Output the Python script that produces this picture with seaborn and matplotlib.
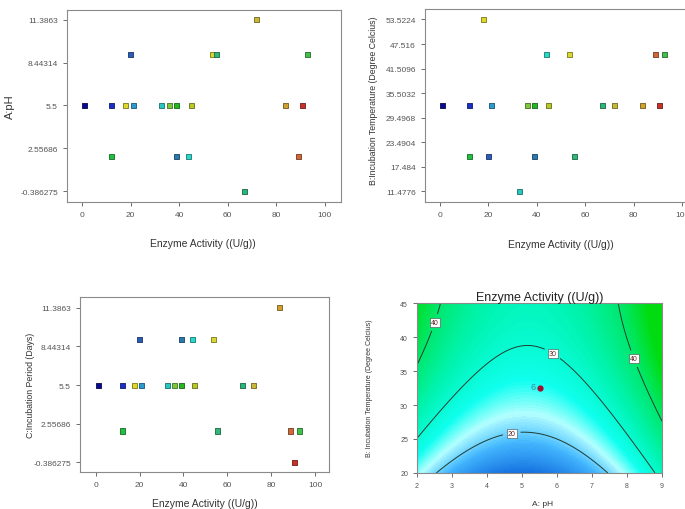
import numpy as np
import pandas as pd
import seaborn as sns
import matplotlib.pyplot as plt
from matplotlib.colors import LinearSegmentedColormap, to_rgb

# design runs (20 runs, central composite design)
activity = [1.1, 12.0, 21.1, 36.0, 39.0, 44.9, 12.0, 20.0, 39.0, 44.0,
            53.7, 55.5, 89.0, 92.9, 17.8, 32.9, 67.0, 71.9, 83.7, 90.8]
ph = [5.5, 5.5, 5.5, 5.5, 5.5, 5.5, 2, 9, 2, 2,
      9, 9, 2, 9, 5.5, 5.5, -0.386275, 11.3863, 5.5, 5.5]
temp = [32.5, 32.5, 32.5, 32.5, 32.5, 32.5, 20, 20, 20, 45,
        45, 20, 45, 45, 53.5224, 11.4776, 32.5, 32.5, 32.5, 32.5]
period = [5.5, 5.5, 5.5, 5.5, 5.5, 5.5, 2, 9, 9, 9,
          9, 2, 2, 2, 5.5, 5.5, 5.5, 5.5, 11.3863, -0.386275]
run_colors = ['#0a0a8c', '#1a2ec8', '#2a9ad0', '#7cc83a', '#22b822', '#b8c828',
              '#22c040', '#2a5cb8', '#2a78b0', '#28d8c8', '#d8d830', '#30b878',
              '#d06838', '#40c048', '#e0d828', '#28c8c0', '#28b878', '#c8b838',
              '#d0a030', '#c83028']

ph_ticks = [-0.386275, 2.55686, 5.5, 8.44314, 11.3863]
ph_ticklabels = ['-0.386275', '2.55686', '5.5', '8.44314', '11.3863']
temp_ticks = [11.4776, 17.484, 23.4904, 29.4968, 35.5032, 41.5096, 47.516, 53.5224]
temp_ticklabels = ['11.4776', '17.484', '23.4904', '29.4968', '35.5032',
                   '41.5096', '47.516', '53.5224']
act_ticks = [0, 20, 40, 60, 80, 100]

# quadratic model for the contour panel (pH vs temperature)
b0, b_aa, b_b, b_bb, b_ab = 12.89, 1.185, 1.3126, -0.02126, -0.0199
center_ph, center_temp, n_center = 5.5, 32.5, 6
contour_levels = [20, 30, 40]

df = pd.DataFrame({'run': range(len(activity)), 'activity': activity,
                   'ph': ph, 'temp': temp, 'period': period})
palette = {i: c for i, c in enumerate(run_colors)}
edges = [tuple(v * 0.55 for v in to_rgb(c)) for c in run_colors]

sns.set_style('ticks')
plt.rcParams['font.family'] = ['Liberation Sans', 'DejaVu Sans']

fig = plt.figure(figsize=(6.85, 5.1), dpi=100)
tick_col = '#555555'


def style_axes(ax):
    for s in ax.spines.values():
        s.set_color('#8a8a8a')
        s.set_linewidth(0.8)
    ax.tick_params(labelsize=6, colors=tick_col, length=3, width=0.6)


def design_scatter(rect, ycol, yticks, yticklabels, ylim, xlim, ylabel,
                   ylabsize, xlab_xy, ylab_xy):
    ax = fig.add_axes(rect)
    sns.scatterplot(data=df, x='activity', y=ycol, hue='run', palette=palette,
                    marker='s', s=13, linewidth=0.6, legend=False, ax=ax)
    ax.collections[0].set_edgecolor(edges)
    ax.set_xlim(*xlim)
    ax.set_ylim(*ylim)
    ax.set_xticks(act_ticks)
    ax.set_yticks(yticks)
    ax.set_yticklabels(yticklabels)
    style_axes(ax)
    ax.set_xlabel('Enzyme Activity ((U/g))', fontsize=7.5, color='#333333')
    ax.set_ylabel(ylabel, fontsize=ylabsize, color='#333333')
    ax.xaxis.set_label_coords(*xlab_xy)
    ax.yaxis.set_label_coords(*ylab_xy)
    return ax


design_scatter([0.0978, 0.602, 0.400, 0.3765], 'ph', ph_ticks, ph_ticklabels,
               (-1.14, 12.07), (-6.17, 106.6), 'A:pH', 8,
               (0.496, -0.19), (-0.19, 0.5))
design_scatter([0.6204, 0.602, 0.400, 0.378], 'temp', temp_ticks, temp_ticklabels,
               (8.86, 56.04), (-6.2, 107), 'B:Incubation Temperature (Degree Celcius)',
               6.3, (0.496, -0.19), (-0.17, 0.53))
design_scatter([0.1168, 0.0725, 0.3635, 0.343], 'period', ph_ticks, ph_ticklabels,
               (-1.125, 12.2), (-7.16, 106.4), 'C:Incubation Period (Days)',
               6.3, (0.502, -0.15), (-0.18, 0.5))

# contour panel
ax = fig.add_axes([0.6088, 0.0706, 0.3577, 0.3333])
A, B = np.meshgrid(np.linspace(2, 9, 300), np.linspace(20, 45, 300))
Z = (b0 + b_aa * (A - 5) ** 2 + b_b * (B - 20) + b_bb * (B - 20) ** 2
     + b_ab * (A - 5) * (B - 20))
cmap = LinearSegmentedColormap.from_list('de', [
    (0.0, '#1470e0'), (0.17, '#44b8ff'), (0.3, '#b4ffff'), (0.42, '#10fff0'),
    (0.62, '#00f5b4'), (0.82, '#00e870'), (1.0, '#00dc10')])
ax.contourf(A, B, Z, levels=120, cmap=cmap, vmin=12.9, vmax=46)
cs = ax.contour(A, B, Z, levels=contour_levels, colors='#1f3d30', linewidths=0.7)
labels = ax.clabel(cs, fmt='%d', fontsize=5,
                   manual=[(2.3, 42.5), (5.9, 37.8), (8.4, 37.2), (4.7, 26.0)])
for t in labels:
    t.set_rotation(0)
    t.set_color('#602828')
    t.set_bbox(dict(boxstyle='square,pad=0.15', fc='white', ec='#444444', lw=0.4))
ax.plot(center_ph, center_temp, 'o', color='#a01030', ms=3.5)
ax.text(center_ph - 0.12, center_temp + 0.2, str(n_center), color='#2a8a9a',
        fontsize=6.5, ha='right', va='center')
ax.set_xlim(2, 9)
ax.set_ylim(20, 45)
ax.set_xticks(range(2, 10))
ax.set_yticks([20, 25, 30, 35, 40, 45])
style_axes(ax)
ax.tick_params(labelsize=5)
ax.set_title('Enzyme Activity ((U/g))', fontsize=9, pad=2, color='#222222')
ax.set_xlabel('A: pH', fontsize=6, color='#333333')
ax.set_ylabel('B: Incubation Temperature (Degree Celcius)', fontsize=5,
              color='#333333')
ax.xaxis.set_label_coords(0.514, -0.16)
ax.yaxis.set_label_coords(-0.18, 0.506)

fig.savefig('out.png', dpi=100)
